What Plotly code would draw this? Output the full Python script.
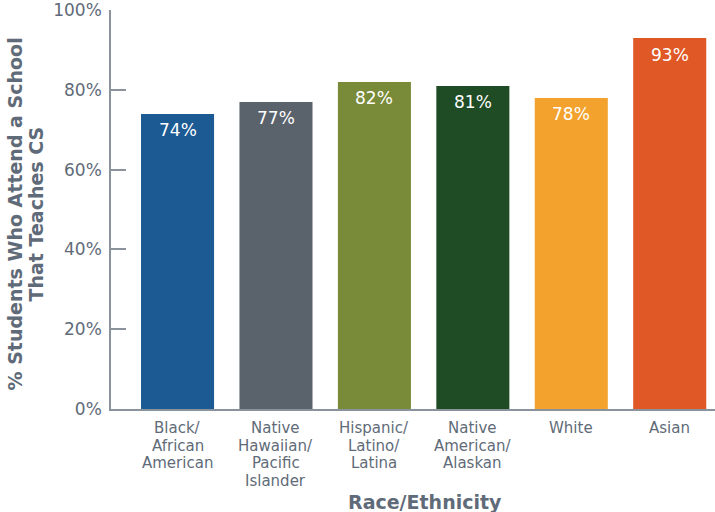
import plotly.graph_objects as go

categories = ["Black/<br>African<br>American", "Native<br>Hawaiian/<br>Pacific<br>Islander",
              "Hispanic/<br>Latino/<br>Latina", "Native<br>American/<br>Alaskan", "White", "Asian"]
values = [74, 77, 82, 81, 78, 93]
labels = ["74%", "77%", "82%", "81%", "78%", "93%"]
colors = ["#1c5a93", "#5a636b", "#798a39", "#1f4b25", "#f2a22d", "#e05826"]
y_ticks = [0, 20, 40, 60, 80, 100]
y_ticktext = ["0%", "20%", "40%", "60%", "80%", "100%"]
x_title = "Race/Ethnicity"
y_title_lines = ["% Students Who Attend a School", "That Teaches CS"]

gray = "#5f6b78"
axis_gray = "#8a939b"
font = "DejaVu Sans"

x_idx = list(range(len(categories)))

fig = go.Figure(go.Bar(
    x=x_idx, y=values, marker=dict(color=colors, line=dict(width=0)),
    width=0.742, hoverinfo="skip",
))

# value labels inside the top of each bar
for i, (v, lab) in enumerate(zip(values, labels)):
    fig.add_annotation(
        x=x_idx[i], xref="x", y=v, yref="y", text=lab, showarrow=False,
        xanchor="center", yanchor="middle", yshift=-16.5, borderpad=0,
        font=dict(size=17, color="white", family=font),
    )

# category labels: one annotation per line, tight line spacing
for i, cat in enumerate(categories):
    for k, line in enumerate(cat.split("<br>")):
        fig.add_annotation(
            x=x_idx[i], xref="x", y=0, yref="paper", text=line, showarrow=False,
            xanchor="center", yanchor="middle", yshift=-19 - 17.5 * k, borderpad=0,
            font=dict(size=15, color=gray, family=font),
        )

fig.add_annotation(
    x=0.5, xref="paper", y=0, yref="paper", text="<b>" + x_title + "</b>",
    showarrow=False, xanchor="center", yanchor="middle", xshift=12, yshift=-92.5,
    borderpad=0, font=dict(size=19, color=gray, family=font),
)
for j, line in enumerate(y_title_lines):
    fig.add_annotation(
        x=0, xref="paper", y=0.5, yref="paper", text="<b>" + line + "</b>",
        showarrow=False, xanchor="center", yanchor="middle", xshift=-97 + 21 * j, yshift=-5,
        borderpad=0, textangle=-90, font=dict(size=19, color=gray, family=font),
    )

fig.update_layout(
    width=715, height=512,
    margin=dict(l=111, r=0, t=10, b=103),
    paper_bgcolor="white", plot_bgcolor="white",
    showlegend=False,
    font=dict(family=font, color=gray),
    xaxis=dict(
        range=[-0.676, 5.46], tickmode="array", tickvals=x_idx, ticktext=[""] * len(x_idx),
        showgrid=False, zeroline=False, automargin=False,
        showline=True, linecolor=axis_gray, linewidth=1.5, ticks="",
    ),
    yaxis=dict(
        range=[0, 100.05], tickmode="array", tickvals=y_ticks, ticktext=y_ticktext,
        tickfont=dict(size=17, color=gray), showgrid=False, zeroline=False,
        automargin=False, ticklabelstandoff=4,
        showline=True, linecolor=axis_gray, linewidth=1.5,
        ticks="inside", ticklen=15, tickwidth=1.5, tickcolor=axis_gray,
    ),
)

fig.write_html("out.html", config={"displayModeBar": False},
               post_script="document.body.style.margin='0';")
